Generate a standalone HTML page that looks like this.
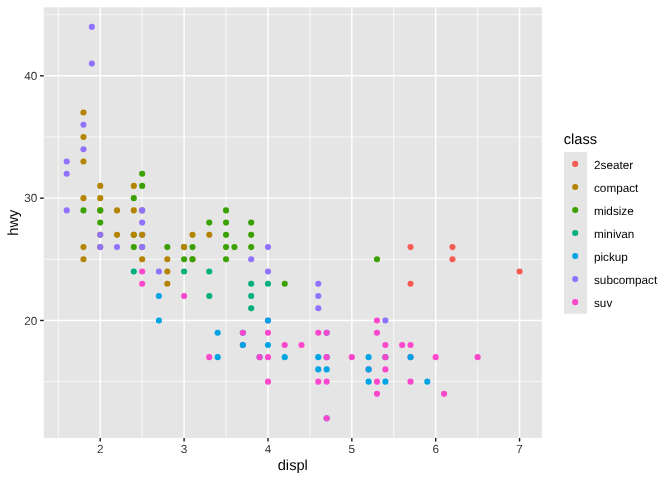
<!DOCTYPE html>
<html><head><meta charset="utf-8"><style>
html,body{margin:0;padding:0;background:#fff;}
svg{display:block;will-change:transform;}
text{font-family:"Liberation Sans",sans-serif;text-rendering:geometricPrecision;}
.ax{font-size:11.73px;fill:#353535;}
.ti{font-size:14.67px;fill:#000;}
.lg{font-size:11.73px;fill:#000;}
</style></head><body>
<svg width="672" height="480" viewBox="0 0 672 480">
<rect x="43.75" y="7.33" width="498.15" height="430.57" fill="#E5E5E5"/>
<line x1="58.31" y1="7.33" x2="58.31" y2="437.90" stroke="#fff" stroke-width="0.71"/>
<line x1="142.17" y1="7.33" x2="142.17" y2="437.90" stroke="#fff" stroke-width="0.71"/>
<line x1="226.03" y1="7.33" x2="226.03" y2="437.90" stroke="#fff" stroke-width="0.71"/>
<line x1="309.90" y1="7.33" x2="309.90" y2="437.90" stroke="#fff" stroke-width="0.71"/>
<line x1="393.76" y1="7.33" x2="393.76" y2="437.90" stroke="#fff" stroke-width="0.71"/>
<line x1="477.63" y1="7.33" x2="477.63" y2="437.90" stroke="#fff" stroke-width="0.71"/>
<line x1="43.75" y1="381.63" x2="541.90" y2="381.63" stroke="#fff" stroke-width="0.71"/>
<line x1="43.75" y1="259.31" x2="541.90" y2="259.31" stroke="#fff" stroke-width="0.71"/>
<line x1="43.75" y1="136.99" x2="541.90" y2="136.99" stroke="#fff" stroke-width="0.71"/>
<line x1="43.75" y1="14.67" x2="541.90" y2="14.67" stroke="#fff" stroke-width="0.71"/>
<line x1="100.24" y1="7.33" x2="100.24" y2="437.90" stroke="#fff" stroke-width="1.42"/>
<line x1="184.10" y1="7.33" x2="184.10" y2="437.90" stroke="#fff" stroke-width="1.42"/>
<line x1="267.97" y1="7.33" x2="267.97" y2="437.90" stroke="#fff" stroke-width="1.42"/>
<line x1="351.83" y1="7.33" x2="351.83" y2="437.90" stroke="#fff" stroke-width="1.42"/>
<line x1="435.69" y1="7.33" x2="435.69" y2="437.90" stroke="#fff" stroke-width="1.42"/>
<line x1="519.56" y1="7.33" x2="519.56" y2="437.90" stroke="#fff" stroke-width="1.42"/>
<line x1="43.75" y1="320.47" x2="541.90" y2="320.47" stroke="#fff" stroke-width="1.42"/>
<line x1="43.75" y1="198.15" x2="541.90" y2="198.15" stroke="#fff" stroke-width="1.42"/>
<line x1="43.75" y1="75.83" x2="541.90" y2="75.83" stroke="#fff" stroke-width="1.42"/>
<circle cx="91.85" cy="26.90" r="3.05" fill="#9072FF"/>
<circle cx="91.85" cy="63.60" r="3.05" fill="#9072FF"/>
<circle cx="83.47" cy="112.53" r="3.05" fill="#B48300"/>
<circle cx="83.47" cy="124.76" r="3.05" fill="#9072FF"/>
<circle cx="83.47" cy="136.99" r="3.05" fill="#B48300"/>
<circle cx="83.47" cy="149.22" r="3.05" fill="#9072FF"/>
<circle cx="66.69" cy="161.45" r="3.05" fill="#9072FF"/>
<circle cx="83.47" cy="161.45" r="3.05" fill="#B48300"/>
<circle cx="66.69" cy="173.69" r="3.05" fill="#9072FF"/>
<circle cx="142.17" cy="173.69" r="3.05" fill="#3AA100"/>
<circle cx="100.24" cy="185.92" r="3.05" fill="#B48300"/>
<circle cx="133.78" cy="185.92" r="3.05" fill="#B48300"/>
<circle cx="142.17" cy="185.92" r="3.05" fill="#3AA100"/>
<circle cx="83.47" cy="198.15" r="3.05" fill="#B48300"/>
<circle cx="100.24" cy="198.15" r="3.05" fill="#B48300"/>
<circle cx="133.78" cy="198.15" r="3.05" fill="#3AA100"/>
<circle cx="66.69" cy="210.38" r="3.05" fill="#9072FF"/>
<circle cx="83.47" cy="210.38" r="3.05" fill="#3AA100"/>
<circle cx="100.24" cy="210.38" r="3.05" fill="#B48300"/>
<circle cx="100.24" cy="210.38" r="3.05" fill="#3AA100"/>
<circle cx="117.01" cy="210.38" r="3.05" fill="#B48300"/>
<circle cx="133.78" cy="210.38" r="3.05" fill="#B48300"/>
<circle cx="142.17" cy="210.38" r="3.05" fill="#B48300"/>
<circle cx="142.17" cy="210.38" r="3.05" fill="#9072FF"/>
<circle cx="226.03" cy="210.38" r="3.05" fill="#3AA100"/>
<circle cx="100.24" cy="222.62" r="3.05" fill="#3AA100"/>
<circle cx="142.17" cy="222.62" r="3.05" fill="#9072FF"/>
<circle cx="209.26" cy="222.62" r="3.05" fill="#3AA100"/>
<circle cx="226.03" cy="222.62" r="3.05" fill="#3AA100"/>
<circle cx="251.19" cy="222.62" r="3.05" fill="#3AA100"/>
<circle cx="100.24" cy="234.85" r="3.05" fill="#B48300"/>
<circle cx="100.24" cy="234.85" r="3.05" fill="#9072FF"/>
<circle cx="117.01" cy="234.85" r="3.05" fill="#B48300"/>
<circle cx="133.78" cy="234.85" r="3.05" fill="#3AA100"/>
<circle cx="133.78" cy="234.85" r="3.05" fill="#B48300"/>
<circle cx="142.17" cy="234.85" r="3.05" fill="#9072FF"/>
<circle cx="142.17" cy="234.85" r="3.05" fill="#B48300"/>
<circle cx="192.49" cy="234.85" r="3.05" fill="#B48300"/>
<circle cx="209.26" cy="234.85" r="3.05" fill="#B48300"/>
<circle cx="226.03" cy="234.85" r="3.05" fill="#3AA100"/>
<circle cx="251.19" cy="234.85" r="3.05" fill="#3AA100"/>
<circle cx="83.47" cy="247.08" r="3.05" fill="#B48300"/>
<circle cx="100.24" cy="247.08" r="3.05" fill="#B48300"/>
<circle cx="100.24" cy="247.08" r="3.05" fill="#9072FF"/>
<circle cx="117.01" cy="247.08" r="3.05" fill="#9072FF"/>
<circle cx="133.78" cy="247.08" r="3.05" fill="#3AA100"/>
<circle cx="142.17" cy="247.08" r="3.05" fill="#B48300"/>
<circle cx="142.17" cy="247.08" r="3.05" fill="#9072FF"/>
<circle cx="167.33" cy="247.08" r="3.05" fill="#3AA100"/>
<circle cx="184.10" cy="247.08" r="3.05" fill="#3AA100"/>
<circle cx="184.10" cy="247.08" r="3.05" fill="#B48300"/>
<circle cx="192.49" cy="247.08" r="3.05" fill="#3AA100"/>
<circle cx="226.03" cy="247.08" r="3.05" fill="#3AA100"/>
<circle cx="234.42" cy="247.08" r="3.05" fill="#3AA100"/>
<circle cx="251.19" cy="247.08" r="3.05" fill="#3AA100"/>
<circle cx="267.97" cy="247.08" r="3.05" fill="#9072FF"/>
<circle cx="410.53" cy="247.08" r="3.05" fill="#F65C53"/>
<circle cx="452.47" cy="247.08" r="3.05" fill="#F65C53"/>
<circle cx="83.47" cy="259.31" r="3.05" fill="#B48300"/>
<circle cx="142.17" cy="259.31" r="3.05" fill="#B48300"/>
<circle cx="167.33" cy="259.31" r="3.05" fill="#B48300"/>
<circle cx="184.10" cy="259.31" r="3.05" fill="#3AA100"/>
<circle cx="192.49" cy="259.31" r="3.05" fill="#B48300"/>
<circle cx="192.49" cy="259.31" r="3.05" fill="#3AA100"/>
<circle cx="226.03" cy="259.31" r="3.05" fill="#3AA100"/>
<circle cx="251.19" cy="259.31" r="3.05" fill="#9072FF"/>
<circle cx="376.99" cy="259.31" r="3.05" fill="#3AA100"/>
<circle cx="452.47" cy="259.31" r="3.05" fill="#F65C53"/>
<circle cx="133.78" cy="271.54" r="3.05" fill="#00AF7D"/>
<circle cx="142.17" cy="271.54" r="3.05" fill="#FA47CC"/>
<circle cx="158.94" cy="271.54" r="3.05" fill="#9072FF"/>
<circle cx="167.33" cy="271.54" r="3.05" fill="#B48300"/>
<circle cx="184.10" cy="271.54" r="3.05" fill="#00AF7D"/>
<circle cx="209.26" cy="271.54" r="3.05" fill="#00AF7D"/>
<circle cx="267.97" cy="271.54" r="3.05" fill="#9072FF"/>
<circle cx="519.56" cy="271.54" r="3.05" fill="#F65C53"/>
<circle cx="142.17" cy="283.78" r="3.05" fill="#FA47CC"/>
<circle cx="167.33" cy="283.78" r="3.05" fill="#B48300"/>
<circle cx="251.19" cy="283.78" r="3.05" fill="#00AF7D"/>
<circle cx="267.97" cy="283.78" r="3.05" fill="#00AF7D"/>
<circle cx="284.74" cy="283.78" r="3.05" fill="#3AA100"/>
<circle cx="318.28" cy="283.78" r="3.05" fill="#9072FF"/>
<circle cx="410.53" cy="283.78" r="3.05" fill="#F65C53"/>
<circle cx="158.94" cy="296.01" r="3.05" fill="#00A4E5"/>
<circle cx="184.10" cy="296.01" r="3.05" fill="#FA47CC"/>
<circle cx="209.26" cy="296.01" r="3.05" fill="#00AF7D"/>
<circle cx="251.19" cy="296.01" r="3.05" fill="#00AF7D"/>
<circle cx="318.28" cy="296.01" r="3.05" fill="#9072FF"/>
<circle cx="251.19" cy="308.24" r="3.05" fill="#00AF7D"/>
<circle cx="318.28" cy="308.24" r="3.05" fill="#9072FF"/>
<circle cx="158.94" cy="320.47" r="3.05" fill="#00A4E5"/>
<circle cx="267.97" cy="320.47" r="3.05" fill="#FA47CC"/>
<circle cx="267.97" cy="320.47" r="3.05" fill="#00A4E5"/>
<circle cx="376.99" cy="320.47" r="3.05" fill="#FA47CC"/>
<circle cx="385.38" cy="320.47" r="3.05" fill="#9072FF"/>
<circle cx="217.65" cy="332.70" r="3.05" fill="#00A4E5"/>
<circle cx="242.81" cy="332.70" r="3.05" fill="#00A4E5"/>
<circle cx="242.81" cy="332.70" r="3.05" fill="#FA47CC"/>
<circle cx="267.97" cy="332.70" r="3.05" fill="#FA47CC"/>
<circle cx="318.28" cy="332.70" r="3.05" fill="#FA47CC"/>
<circle cx="326.67" cy="332.70" r="3.05" fill="#00A4E5"/>
<circle cx="326.67" cy="332.70" r="3.05" fill="#FA47CC"/>
<circle cx="376.99" cy="332.70" r="3.05" fill="#FA47CC"/>
<circle cx="242.81" cy="344.94" r="3.05" fill="#FA47CC"/>
<circle cx="242.81" cy="344.94" r="3.05" fill="#00A4E5"/>
<circle cx="267.97" cy="344.94" r="3.05" fill="#00A4E5"/>
<circle cx="284.74" cy="344.94" r="3.05" fill="#FA47CC"/>
<circle cx="301.51" cy="344.94" r="3.05" fill="#FA47CC"/>
<circle cx="385.38" cy="344.94" r="3.05" fill="#FA47CC"/>
<circle cx="402.15" cy="344.94" r="3.05" fill="#FA47CC"/>
<circle cx="410.53" cy="344.94" r="3.05" fill="#FA47CC"/>
<circle cx="209.26" cy="357.17" r="3.05" fill="#FA47CC"/>
<circle cx="217.65" cy="357.17" r="3.05" fill="#00A4E5"/>
<circle cx="259.58" cy="357.17" r="3.05" fill="#00A4E5"/>
<circle cx="259.58" cy="357.17" r="3.05" fill="#FA47CC"/>
<circle cx="267.97" cy="357.17" r="3.05" fill="#FA47CC"/>
<circle cx="284.74" cy="357.17" r="3.05" fill="#00A4E5"/>
<circle cx="318.28" cy="357.17" r="3.05" fill="#00A4E5"/>
<circle cx="326.67" cy="357.17" r="3.05" fill="#00A4E5"/>
<circle cx="326.67" cy="357.17" r="3.05" fill="#FA47CC"/>
<circle cx="351.83" cy="357.17" r="3.05" fill="#FA47CC"/>
<circle cx="368.60" cy="357.17" r="3.05" fill="#00A4E5"/>
<circle cx="385.38" cy="357.17" r="3.05" fill="#00A4E5"/>
<circle cx="385.38" cy="357.17" r="3.05" fill="#FA47CC"/>
<circle cx="410.53" cy="357.17" r="3.05" fill="#FA47CC"/>
<circle cx="410.53" cy="357.17" r="3.05" fill="#00A4E5"/>
<circle cx="435.69" cy="357.17" r="3.05" fill="#FA47CC"/>
<circle cx="477.63" cy="357.17" r="3.05" fill="#FA47CC"/>
<circle cx="318.28" cy="369.40" r="3.05" fill="#00A4E5"/>
<circle cx="326.67" cy="369.40" r="3.05" fill="#00A4E5"/>
<circle cx="368.60" cy="369.40" r="3.05" fill="#FA47CC"/>
<circle cx="368.60" cy="369.40" r="3.05" fill="#00A4E5"/>
<circle cx="385.38" cy="369.40" r="3.05" fill="#FA47CC"/>
<circle cx="267.97" cy="381.63" r="3.05" fill="#FA47CC"/>
<circle cx="318.28" cy="381.63" r="3.05" fill="#FA47CC"/>
<circle cx="326.67" cy="381.63" r="3.05" fill="#FA47CC"/>
<circle cx="368.60" cy="381.63" r="3.05" fill="#00A4E5"/>
<circle cx="376.99" cy="381.63" r="3.05" fill="#FA47CC"/>
<circle cx="385.38" cy="381.63" r="3.05" fill="#00A4E5"/>
<circle cx="410.53" cy="381.63" r="3.05" fill="#FA47CC"/>
<circle cx="427.31" cy="381.63" r="3.05" fill="#00A4E5"/>
<circle cx="376.99" cy="393.86" r="3.05" fill="#FA47CC"/>
<circle cx="444.08" cy="393.86" r="3.05" fill="#FA47CC"/>
<circle cx="326.67" cy="418.33" r="3.05" fill="#00A4E5"/>
<circle cx="326.67" cy="418.33" r="3.05" fill="#FA47CC"/>
<line x1="100.24" y1="437.90" x2="100.24" y2="441.57" stroke="#1F1F1F" stroke-width="1.42"/>
<text x="100.24" y="452.8" text-anchor="middle" class="ax">2</text>
<line x1="184.10" y1="437.90" x2="184.10" y2="441.57" stroke="#1F1F1F" stroke-width="1.42"/>
<text x="184.10" y="452.8" text-anchor="middle" class="ax">3</text>
<line x1="267.97" y1="437.90" x2="267.97" y2="441.57" stroke="#1F1F1F" stroke-width="1.42"/>
<text x="267.97" y="452.8" text-anchor="middle" class="ax">4</text>
<line x1="351.83" y1="437.90" x2="351.83" y2="441.57" stroke="#1F1F1F" stroke-width="1.42"/>
<text x="351.83" y="452.8" text-anchor="middle" class="ax">5</text>
<line x1="435.69" y1="437.90" x2="435.69" y2="441.57" stroke="#1F1F1F" stroke-width="1.42"/>
<text x="435.69" y="452.8" text-anchor="middle" class="ax">6</text>
<line x1="519.56" y1="437.90" x2="519.56" y2="441.57" stroke="#1F1F1F" stroke-width="1.42"/>
<text x="519.56" y="452.8" text-anchor="middle" class="ax">7</text>
<line x1="40.08" y1="320.47" x2="43.75" y2="320.47" stroke="#1F1F1F" stroke-width="1.42"/>
<text x="37.4" y="324.57" text-anchor="end" class="ax">20</text>
<line x1="40.08" y1="198.15" x2="43.75" y2="198.15" stroke="#1F1F1F" stroke-width="1.42"/>
<text x="37.4" y="202.25" text-anchor="end" class="ax">30</text>
<line x1="40.08" y1="75.83" x2="43.75" y2="75.83" stroke="#1F1F1F" stroke-width="1.42"/>
<text x="37.4" y="79.93" text-anchor="end" class="ax">40</text>
<text x="292.8" y="470.2" text-anchor="middle" class="ti">displ</text>
<text transform="translate(17.7,222.6) rotate(-90)" text-anchor="middle" class="ti">hwy</text>
<text x="563.7" y="144.2" class="ti">class</text>
<rect x="564" y="152.0" width="23.04" height="161.8" fill="#E5E5E5"/>
<circle cx="575.2" cy="163.92" r="3.05" fill="#F65C53"/>
<text x="594.0" y="168.52" class="lg">2seater</text>
<circle cx="575.2" cy="186.96" r="3.05" fill="#B48300"/>
<text x="594.0" y="191.56" class="lg">compact</text>
<circle cx="575.2" cy="210.00" r="3.05" fill="#3AA100"/>
<text x="594.0" y="214.60" class="lg">midsize</text>
<circle cx="575.2" cy="233.04" r="3.05" fill="#00AF7D"/>
<text x="594.0" y="237.64" class="lg">minivan</text>
<circle cx="575.2" cy="256.08" r="3.05" fill="#00A4E5"/>
<text x="594.0" y="260.68" class="lg">pickup</text>
<circle cx="575.2" cy="279.12" r="3.05" fill="#9072FF"/>
<text x="594.0" y="283.72" class="lg">subcompact</text>
<circle cx="575.2" cy="302.16" r="3.05" fill="#FA47CC"/>
<text x="594.0" y="306.76" class="lg">suv</text>
</svg>
</body></html>
